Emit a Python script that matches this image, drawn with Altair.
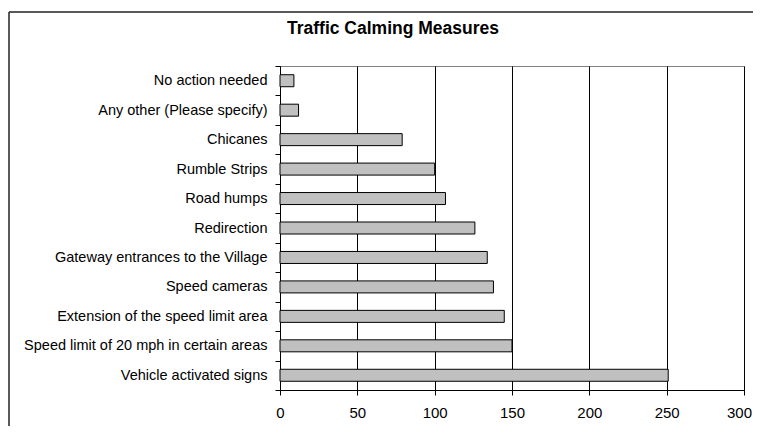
import altair as alt
import pandas as pd

categories = [
    "No action needed",
    "Any other (Please specify)",
    "Chicanes",
    "Rumble Strips",
    "Road humps",
    "Redirection",
    "Gateway entrances to the Village",
    "Speed cameras",
    "Extension of the speed limit area",
    "Speed limit of 20 mph in certain areas",
    "Vehicle activated signs",
]
values = [9, 12, 79, 100, 107, 126, 134, 138, 145, 150, 251]
x_ticks = [0, 50, 100, 150, 200, 250, 300]

df = pd.DataFrame({"measure": categories, "count": values})

FONT = "Liberation Sans"

bars = alt.Chart(df).mark_bar(
    size=12, color="#c0c0c0", stroke="#000000", strokeWidth=1
).encode(
    x=alt.X(
        "count:Q",
        scale=alt.Scale(domain=[0, 300], nice=False),
        axis=alt.Axis(
            values=x_ticks,
            title=None,
            grid=True,
            gridColor="#000000",
            gridOpacity=1,
            gridWidth=1,
            domainColor="#000000",
            tickColor="#000000",
            tickSize=5,
            labelPadding=10,
            labelFontSize=15,
            labelFont=FONT,
            labelColor="#000000",
            labelFlush=False,
            labelOffset=alt.condition("datum.value == 300", alt.value(-5), alt.value(0)),
        ),
    ),
    y=alt.Y(
        "measure:N",
        sort=categories,
        scale=alt.Scale(paddingInner=0, paddingOuter=0),
        axis=alt.Axis(
            title=None,
            tickBand="extent",
            domainColor="#000000",
            tickColor="#000000",
            tickSize=5,
            labelPadding=8,
            labelFontSize=14.5,
            labelFont=FONT,
            labelColor="#000000",
            labelLimit=400,
        ),
    ),
)

frame_data = alt.Data(values=[{"k": 1}])
left_frame = alt.Chart(frame_data).mark_rule(color="#222222", strokeWidth=1.5).encode(
    x=alt.value(-271), y=alt.value(-54), y2=alt.value(400)
)
top_frame = alt.Chart(frame_data).mark_rule(color="#222222", strokeWidth=1.5).encode(
    x=alt.value(-271), x2=alt.value(500), y=alt.value(-54)
)

chart = alt.layer(bars, left_frame, top_frame).properties(
    width=464,
    height=324,
    autosize=alt.AutoSizeParams(type="none"),
    padding={"left": 272, "top": 58, "right": 9, "bottom": 36},
    title=alt.TitleParams(
        "Traffic Calming Measures",
        font=FONT,
        fontSize=17.5,
        fontWeight="bold",
        color="#000000",
        anchor="middle",
        frame="group",
        dx=-119,
        offset=-26,
    ),
).configure_view(stroke="#808080", strokeWidth=1)

chart.save("out.html", embed_options={"renderer": "svg", "actions": False})
